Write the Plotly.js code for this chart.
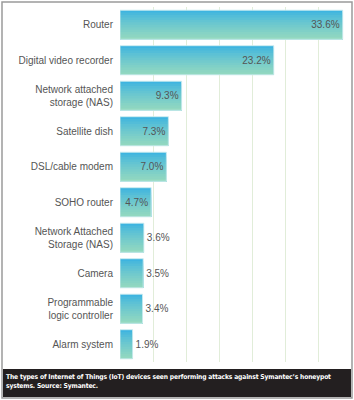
<!DOCTYPE html>
<html><head><meta charset="utf-8">
<script src="https://cdn.plot.ly/plotly-3.0.1.min.js"></script>
<style>html,body{margin:0;padding:0;background:#fff;}#chart{width:354px;height:400px;}
.annotation-text{letter-spacing:-0.15px;}</style>
</head><body><div id="chart"></div>
<script>
const categories = ["Router","Digital video recorder","Network attached<br>storage (NAS)","Satellite dish","DSL/cable modem","SOHO router","Network Attached<br>Storage (NAS)","Camera","Programmable<br>logic controller","Alarm system"];
const values = [33.6, 23.2, 9.3, 7.3, 7.0, 4.7, 3.6, 3.5, 3.4, 1.9];
const valueLabels = ["33.6%","23.2%","9.3%","7.3%","7.0%","4.7%","3.6%","3.5%","3.4%","1.9%"];
const caption = "The types of Internet of Things (IoT) devices seen performing attacks against Symantec\u2019s honeypot<br>systems. Source: Symantec.";

const W = 226, H = 355, L = 120, T = 7;
const px = x => (x - L) / W;
const py = y => (T + H - y) / H;

const barW = 0.82, NS = 12;
const gradTop = [62,180,224], gradBot = [146,216,192];
const traces = [];
for (let i = 0; i < NS; i++) {
  const t = Math.pow(i/(NS-1), 0.8);
  const c = gradTop.map((v,k)=>Math.round(v + (gradBot[k]-v)*t));
  traces.push({
    type:'bar', orientation:'h', x: values, y: categories,
    width: barW - i*barW/NS, offset: -barW/2 + i*barW/NS,
    marker:{color:`rgb(${c[0]},${c[1]},${c[2]})`, line:{width:0}},
    hoverinfo:'skip', showlegend:false
  });
}
traces.push({
  type:'bar', orientation:'h', x: values, y: categories,
  width: barW, offset: -barW/2,
  marker:{color:'rgba(0,0,0,0)', line:{width:1, color:'rgba(205,236,240,0.9)'}},
  text: valueLabels,
  textposition: values.map(v => v > 4 ? 'inside' : 'outside'),
  insidetextanchor:'end',
  textfont:{family:'Liberation Sans, Arial, sans-serif', size:10, color:'#555'},
  insidetextfont:{family:'Liberation Sans, Arial, sans-serif', size:10, color:'#555'},
  outsidetextfont:{family:'Liberation Sans, Arial, sans-serif', size:10, color:'#555'},
  cliponaxis:false, showlegend:false
});

const layout = {
  width:354, height:400,
  margin:{l:L, r:354-L-W, t:T, b:400-T-H, pad:0},
  barmode:'overlay',
  paper_bgcolor:'#fff', plot_bgcolor:'#fff',
  font:{family:'Liberation Sans, Arial, sans-serif', size:10, color:'#555'},
  xaxis:{range:[0,34.1], dtick:5, tick0:0, showticklabels:false, showgrid:true,
    gridcolor:'#e1edd9', gridwidth:1, zeroline:false, showline:false, fixedrange:true},
  yaxis:{type:'category', autorange:'reversed', showgrid:false, zeroline:false, showline:false,
    ticks:'', ticklabelstandoff:6, tickfont:{size:10, color:'#555'}},
  shapes:[
    {type:'rect', xref:'paper', yref:'paper', x0:px(2), x1:px(352), y0:py(398), y1:py(2),
      line:{color:'#9a9a9a', width:1.5}, fillcolor:'rgba(0,0,0,0)', layer:'above'},
    {type:'rect', xref:'paper', yref:'paper', x0:px(3), x1:px(351), y0:py(397), y1:py(369),
      line:{width:0}, fillcolor:'#231f20', layer:'above'}
  ],
  annotations:[
    {xref:'paper', yref:'paper', x:px(4), y:py(371), xanchor:'left', yanchor:'top',
      align:'left', showarrow:false, text:caption,
      font:{family:'DejaVu Sans Condensed, DejaVu Sans, sans-serif', size:6.7, color:'#fff', weight:700, stretch:'condensed'}}
  ]
};
Plotly.newPlot('chart', traces, layout, {displayModeBar:false, staticPlot:true});
</script></body></html>
